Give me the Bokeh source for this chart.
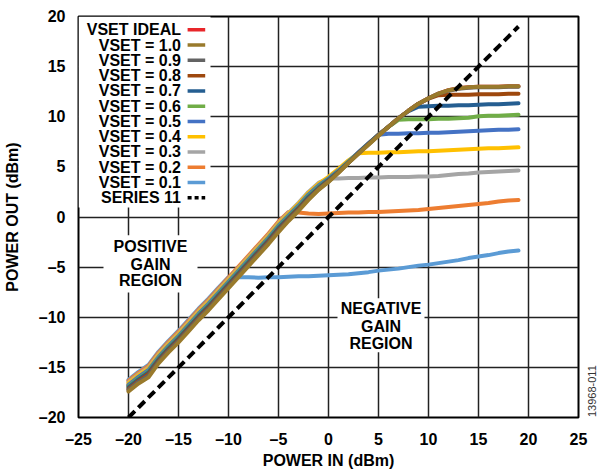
import math
from bokeh.plotting import figure
from bokeh.models import ColumnDataSource, FixedTicker, BoxAnnotation, LinearAxis, Range1d
from bokeh.core.properties import value
from bokeh.embed import file_html
from bokeh.resources import INLINE

# ---------------- data ----------------
POWER_IN = [-20, -19, -18, -17, -16, -15, -14, -13, -12, -11, -10, -9, -8, -7, -6, -5, -4, -3, -2, -1,
            0, 1, 2, 3, 4, 5, 6, 7, 8, 9, 10, 11, 12, 13, 14, 15, 16, 17, 18, 19]

VSET_IDEAL = [-16.8, -16.0, -15.3, -14.0, -12.9, -11.9, -10.8, -9.7, -8.7, -7.6, -6.5, -5.4, -4.3, -3.2, -2.1,
              -0.9, 0.1, 1.1, 2.2, 3.1, 3.8, 4.6, 5.5, 6.4, 7.3, 8.2, 9.0, 9.85, 10.6, 11.3,
              11.85, 12.3, 12.65, 12.85, 12.95, 13.0, 13.0, 13.0, 13.05, 13.05]
VSET_1_0 = [-17.4, -16.6, -16.0, -14.6, -13.5, -12.5, -11.4, -10.3, -9.3, -8.2, -7.1, -6.0, -4.9, -3.8, -2.7,
            -1.5, -0.4, 0.6, 1.7, 2.7, 3.5, 4.4, 5.4, 6.3, 7.2, 8.1, 9.0, 9.85, 10.6, 11.3,
            11.85, 12.3, 12.65, 12.85, 12.95, 13.0, 13.0, 13.0, 13.05, 13.05]
VSET_0_9 = [-17.25, -16.45, -15.8, -14.45, -13.35, -12.35, -11.25, -10.15, -9.15, -8.05, -6.95, -5.85, -4.75, -3.65, -2.55,
            -1.35, -0.3, 0.7, 1.8, 2.75, 3.55, 4.45, 5.4, 6.35, 7.25, 8.15, 9.0, 9.85, 10.6, 11.3,
            11.85, 12.3, 12.6, 12.8, 12.9, 12.95, 12.95, 12.95, 13.0, 13.0]
VSET_0_8 = [-17.15, -16.35, -15.65, -14.35, -13.25, -12.25, -11.15, -10.05, -9.05, -7.95, -6.85, -5.75, -4.65, -3.55, -2.45,
            -1.25, -0.2, 0.8, 1.85, 2.8, 3.6, 4.45, 5.4, 6.35, 7.25, 8.15, 9.0, 9.85, 10.6, 11.3,
            11.8, 12.15, 12.2, 12.2, 12.2, 12.25, 12.25, 12.25, 12.3, 12.3]
VSET_0_7 = [-17.0, -16.2, -15.5, -14.2, -13.1, -12.1, -11.0, -9.9, -8.9, -7.8, -6.7, -5.6, -4.5, -3.4, -2.3,
            -1.1, -0.1, 0.9, 2.0, 2.9, 3.7, 4.5, 5.45, 6.4, 7.3, 8.2, 9.0, 9.85, 10.55, 11.0,
            11.05, 11.1, 11.1, 11.15, 11.15, 11.2, 11.25, 11.25, 11.3, 11.35]
VSET_0_6 = [-16.9, -16.1, -15.4, -14.1, -13.0, -12.0, -10.9, -9.8, -8.8, -7.7, -6.6, -5.5, -4.4, -3.3, -2.2,
            -1.0, 0.0, 1.0, 2.1, 3.0, 3.75, 4.55, 5.5, 6.4, 7.3, 8.2, 9.0, 9.7, 9.75, 9.75,
            9.75, 9.8, 9.8, 9.85, 9.9, 10.05, 10.1, 10.1, 10.15, 10.2]
VSET_0_5 = [-16.75, -15.95, -15.25, -13.95, -12.85, -11.85, -10.75, -9.65, -8.65, -7.55, -6.45, -5.35, -4.25, -3.15, -2.05,
            -0.85, 0.15, 1.15, 2.25, 3.15, 3.85, 4.65, 5.55, 6.45, 7.35, 8.2, 8.3, 8.3, 8.35, 8.35,
            8.4, 8.4, 8.45, 8.5, 8.55, 8.6, 8.65, 8.7, 8.7, 8.75]
VSET_0_4 = [-16.6, -15.8, -15.1, -13.8, -12.7, -11.7, -10.6, -9.5, -8.5, -7.4, -6.3, -5.2, -4.1, -3.0, -1.9,
            -0.7, 0.3, 1.3, 2.4, 3.3, 4.0, 4.8, 5.65, 6.35, 6.4, 6.4, 6.45, 6.45, 6.5, 6.55,
            6.55, 6.6, 6.65, 6.7, 6.75, 6.8, 6.85, 6.85, 6.9, 6.95]
VSET_0_3 = [-16.5, -15.7, -15.0, -13.7, -12.6, -11.6, -10.5, -9.4, -8.4, -7.3, -6.2, -5.1, -4.0, -2.9, -1.8,
            -0.6, 0.4, 1.4, 2.5, 3.4, 3.85, 3.85, 3.9, 3.9, 3.95, 3.95, 4.0, 4.0, 4.0, 4.05,
            4.05, 4.1, 4.2, 4.3, 4.35, 4.45, 4.5, 4.55, 4.6, 4.65]
VSET_0_2 = [-16.35, -15.55, -14.85, -13.55, -12.45, -11.45, -10.35, -9.25, -8.25, -7.15, -6.05, -4.95, -3.85, -2.75, -1.65,
            -0.45, 0.5, 0.45, 0.35, 0.3, 0.35, 0.4, 0.45, 0.45, 0.5, 0.5, 0.55, 0.6, 0.65, 0.7,
            0.8, 0.9, 1.0, 1.1, 1.2, 1.3, 1.4, 1.55, 1.65, 1.7]
VSET_0_1 = [-16.25, -15.45, -14.75, -13.45, -12.35, -11.35, -10.25, -9.15, -8.15, -7.05, -6.0, -6.0, -6.0, -6.05, -6.0,
            -6.0, -5.95, -5.9, -5.9, -5.85, -5.8, -5.75, -5.7, -5.6, -5.5, -5.35, -5.25, -5.15, -5.0, -4.85,
            -4.75, -4.6, -4.45, -4.3, -4.1, -3.95, -3.8, -3.6, -3.45, -3.35]
SERIES_11 = [-20, -19, -18, -17, -16, -15, -14, -13, -12, -11, -10, -9, -8, -7, -6, -5, -4, -3, -2, -1,
             0, 1, 2, 3, 4, 5, 6, 7, 8, 9, 10, 11, 12, 13, 14, 15, 16, 17, 18, 19]

SERIES_NAMES = ["VSET IDEAL", "VSET = 1.0", "VSET = 0.9", "VSET = 0.8", "VSET = 0.7", "VSET = 0.6",
                "VSET = 0.5", "VSET = 0.4", "VSET = 0.3", "VSET = 0.2", "VSET = 0.1"]
SERIES_VALUES = [VSET_IDEAL, VSET_1_0, VSET_0_9, VSET_0_8, VSET_0_7, VSET_0_6,
                 VSET_0_5, VSET_0_4, VSET_0_3, VSET_0_2, VSET_0_1]
SERIES_COLORS = ["#E8262A", "#997A2C", "#636363", "#9E480E", "#255E91", "#70AD47",
                 "#4472C4", "#FFC000", "#A5A5A5", "#ED7D31", "#5B9BD5"]
DASH_NAME = "SERIES 11"

X_TICKS = [-25, -20, -15, -10, -5, 0, 5, 10, 15, 20, 25]
X_TICK_LABELS = ["\u201325", "\u201320", "\u201315", "\u201310", "\u20135", "0", "5", "10", "15", "20", "25"]
Y_TICKS = [-20, -15, -10, -5, 0, 5, 10, 15, 20]
Y_TICK_LABELS = ["\u201320", "\u201315", "\u201310", "\u20135", "0", "5", "10", "15", "20"]

X_TITLE = "POWER IN (dBm)"
Y_TITLE = "POWER OUT (dBm)"
POS_TEXT = ["POSITIVE", "GAIN", "REGION"]
NEG_TEXT = ["NEGATIVE", "GAIN", "REGION"]
FIG_ID = "13968-011"

FONT = "Liberation Sans"

# ---------------- figure ----------------
p = figure(width=603, height=471, x_range=Range1d(-25, 25), y_range=Range1d(-20, 20),
           output_backend="svg", toolbar_location=None, title=None,
           min_border_left=78, min_border_right=24, min_border_top=16, min_border_bottom=54)
p.background_fill_color = "white"
p.border_fill_color = "white"
p.outline_line_color = "black"
p.outline_line_width = 2

for ax, ticks, labels in ((p.xaxis[0], X_TICKS, X_TICK_LABELS), (p.yaxis[0], Y_TICKS, Y_TICK_LABELS)):
    ax.ticker = FixedTicker(ticks=ticks)
    ax.major_label_overrides = {t: l for t, l in zip(ticks, labels)}
    ax.axis_line_color = None
    ax.major_tick_line_color = None
    ax.minor_tick_line_color = None
    ax.major_label_text_font = FONT
    ax.major_label_text_font_style = "bold"
    ax.major_label_text_font_size = "16px"
    ax.major_label_text_color = "black"
    ax.axis_label_text_font = FONT
    ax.axis_label_text_font_style = "bold"
    ax.axis_label_text_font_size = "16px"
    ax.axis_label_text_color = "black"

p.xaxis.axis_label = X_TITLE
p.yaxis.axis_label = Y_TITLE
p.xaxis.major_label_standoff = 7
p.xaxis.axis_label_standoff = 1
p.yaxis.major_label_standoff = 7
p.yaxis.axis_label_standoff = 15

# figure id printed vertically at the right edge (single-tick right axis)
id_axis = LinearAxis(ticker=FixedTicker(ticks=[-19.95]), major_label_overrides={-19.95: FIG_ID},
                     major_label_orientation=math.pi / 2, major_label_standoff=8,
                     axis_line_color=None, major_tick_line_color=None, minor_tick_line_color=None,
                     major_label_text_font=FONT, major_label_text_font_size="11px",
                     major_label_text_color="#333333")
p.add_layout(id_axis, "right")

for g, ticks in ((p.xgrid[0], X_TICKS), (p.ygrid[0], Y_TICKS)):
    g.ticker = FixedTicker(ticks=ticks)
    g.grid_line_color = "#222222"
    g.grid_line_width = 1.5

# white boxes (legend, region labels) covering grid
for l, r, t, b in ((-25, -11.8, 20, 0.95), (-22.5, -13.1, -1.83, -7.52), (0.9, 9.6, -8.1, -13.5)):
    p.add_layout(BoxAnnotation(left=l, right=r, top=t, bottom=b, fill_color="white", fill_alpha=1.0,
                               line_color=None, level="underlay"))

# data lines: ideal first, then 0.1 ... 1.0 so 1.0 sits on top
draw_order = [0] + list(range(len(SERIES_NAMES) - 1, 0, -1))
for i in draw_order:
    src = ColumnDataSource(dict(x=POWER_IN, y=SERIES_VALUES[i]))
    p.line("x", "y", source=src, line_color=SERIES_COLORS[i], line_width=4,
           line_join="round", line_cap="round")

p.line(POWER_IN, SERIES_11, line_color="black", line_width=4, line_dash="9 5")

# legend (glyph to the right of the text)
n = len(SERIES_NAMES) + 1
leg_y = [18.67 - 1.523 * k for k in range(n)]
p.text(x=[-14.75] * n, y=leg_y, text=SERIES_NAMES + [DASH_NAME], text_font=value(FONT),
       text_font_style="bold", text_font_size="16px", text_align="right", text_baseline="middle",
       text_color="black")
p.segment(x0=[-14.09] * len(SERIES_NAMES), x1=[-12.33] * len(SERIES_NAMES), y0=leg_y[:-1], y1=leg_y[:-1],
          line_color=SERIES_COLORS, line_width=3.5)
p.segment(x0=[-14.09], x1=[-12.33], y0=[leg_y[-1]], y1=[leg_y[-1]], line_color="black",
          line_width=3.5, line_dash="4 3")

# region labels
p.text(x=[-17.8] * 3, y=[-2.99, -4.72, -6.38], text=POS_TEXT, text_font=value(FONT),
       text_font_style="bold", text_font_size="16px", text_align="center", text_baseline="middle",
       text_color="black")
p.text(x=[5.25] * 3, y=[-9.14, -10.88, -12.63], text=NEG_TEXT, text_font=value(FONT),
       text_font_style="bold", text_font_size="16px", text_align="center", text_baseline="middle",
       text_color="black")

open("out.html", "w").write(file_html(p, INLINE))
